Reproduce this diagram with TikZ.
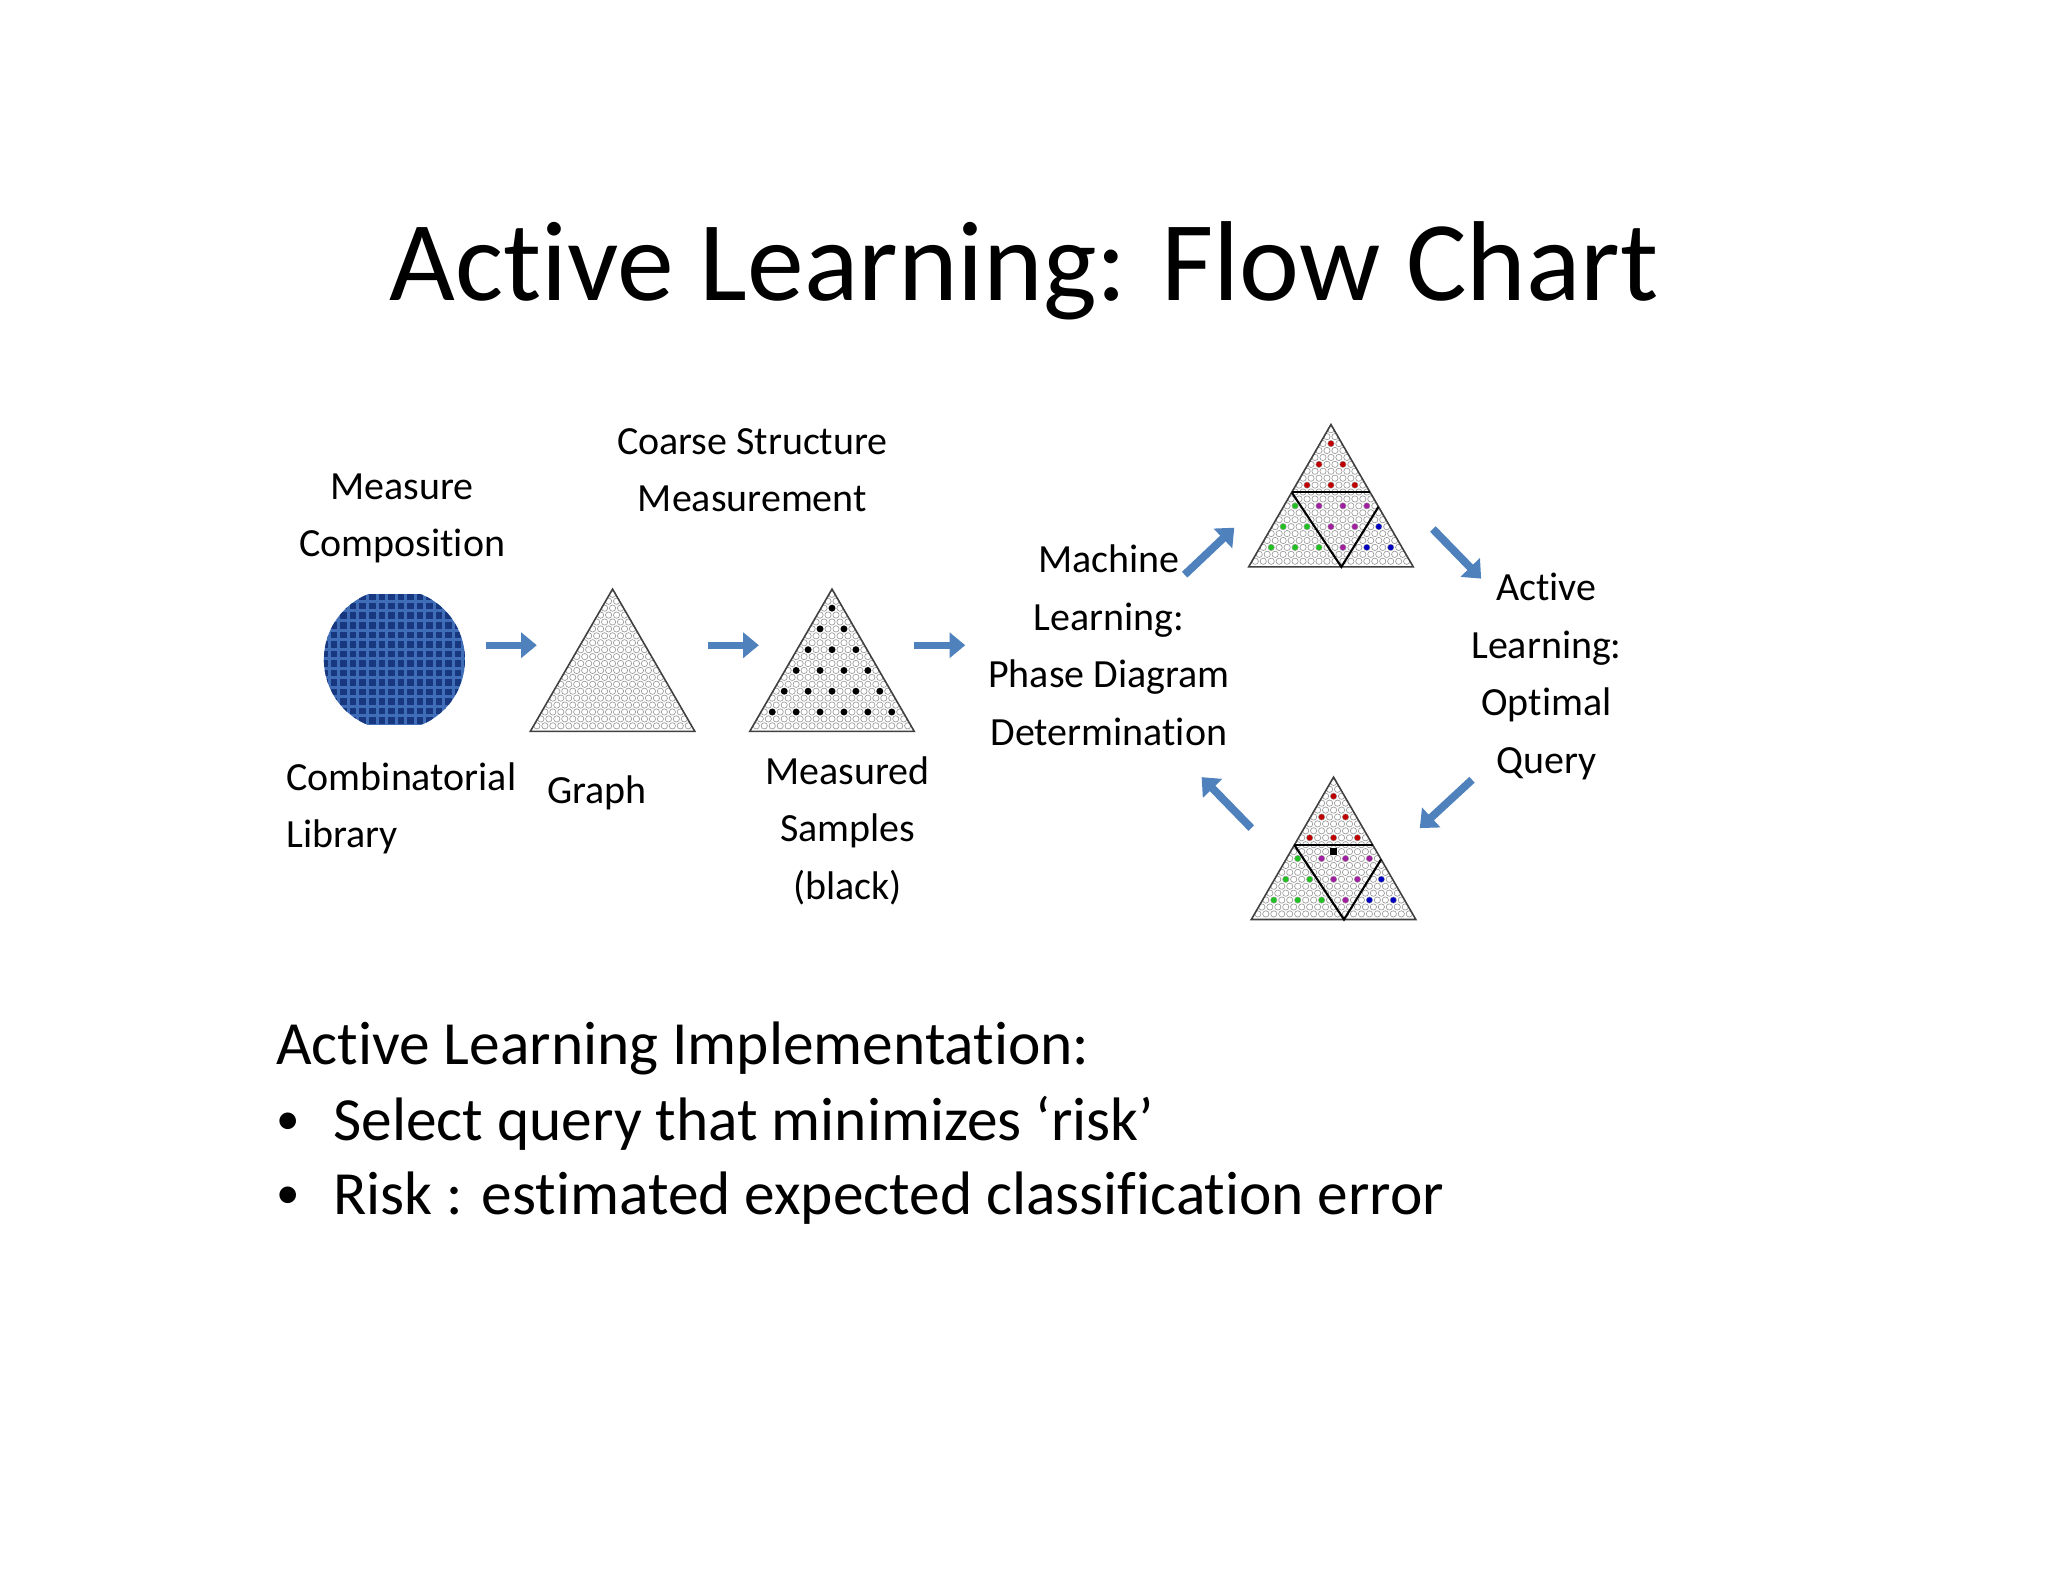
\documentclass[tikz,border=0pt]{standalone}
\usepackage{fontspec}
\setmainfont[Ligatures=NoCommon]{Carlito}
\usetikzlibrary{arrows.meta}
\definecolor{arrowblue}{HTML}{4F81BD}
\definecolor{waferlight}{HTML}{3F6DB8}
\definecolor{waferdark}{HTML}{17387E}
\definecolor{dmag}{HTML}{A020A0}
\definecolor{dred}{HTML}{C00000}
\definecolor{dgreen}{HTML}{22C022}
\definecolor{dblue}{HTML}{0000C0}
\tikzset{
  lbl/.style={align=center,font=\fontsize{15.3}{22}\selectfont,inner sep=0pt},
  harrow/.style={arrowblue,line width=2.8pt,-{Triangle[width=9.5pt,length=6pt]}},
  darrow/.style={arrowblue,line width=3pt,-{Triangle[width=10pt,length=6pt]}},
  tri/.style={draw=black!75,line width=0.6pt},
  latt/.style={draw=black!40,line width=0.25pt},
  phase/.style={draw=black,line width=0.8pt},
  btxt/.style={anchor=west,inner sep=0pt,font=\fontsize{23.5}{28}\selectfont}
}
\newcommand{\lattri}{%
  \foreach \r in {0,...,19}{\foreach \i in {0,...,\r}{\draw[latt] ({\i*6.1-\r*3.05},{4+\r*5.3}) circle[radius=1.2pt];}}
  \draw[tri] (0,0) -- (63,109) -- (-63,109) -- cycle;}
\newcommand{\phasedots}{%
  \foreach \k/\j/\c in {0/0/dred,1/0/dred,1/1/dred,2/0/dred,2/1/dred,2/2/dred,3/0/dgreen,3/1/dmag,3/2/dmag,3/3/dmag,4/0/dgreen,4/1/dgreen,4/2/dmag,4/3/dmag,4/4/dblue,5/0/dgreen,5/1/dgreen,5/2/dgreen,5/3/dmag,5/4/dblue,5/5/dblue}{
    \fill[\c] ({(3*\j+1)*6.1-(3*\k+2)*3.05},{4+(3*\k+2)*5.3}) circle[radius=1.1pt];}
  \draw[phase] (-30,52) -- (30,52);
  \draw[phase] (-30,52) -- (8,109) -- (36.4,63);}
\begin{document}
\begin{tikzpicture}[x=0.5pt,y=-0.5pt]
\useasboundingbox (0,0) rectangle (1568,1211);
\fill[white] (0,0) rectangle (1568,1211);
% title
\node[font=\fontsize{43.5}{50}\selectfont,inner sep=0pt] (title) at (784,207) {Active Learning: Flow Chart};
% wafer
\begin{scope}
  \clip (248,455) rectangle (357,555);
  \clip (302,505) ellipse [x radius=27pt,y radius=27pt];
  \fill[waferlight] (240,440) rectangle (370,570);
  \foreach \a in {0,...,16}{\foreach \b in {0,...,16}{
    \fill[waferdark] ({246+\a*7.3},{447+\b*7.3}) rectangle ++(5,5);}}
\end{scope}
\coordinate (wafer) at (302,505);
% triangles
\begin{scope}[shift={(469,451)}] \lattri \coordinate (graph) at (0,55); \end{scope}
\begin{scope}[shift={(637,451)}] \lattri
  \foreach \k in {0,...,5}{\foreach \j in {0,...,\k}{
    \fill[black] ({(3*\j+1)*6.1-(3*\k+2)*3.05},{4+(3*\k+2)*5.3}) circle[radius=1.3pt];}}
  \coordinate (meas) at (0,55);
\end{scope}
\begin{scope}[shift={(1019,325)}] \lattri \phasedots \coordinate (top) at (0,55); \end{scope}
\begin{scope}[shift={(1021,595)}] \lattri \phasedots
  \fill[black] (-2.5,54.5) rectangle (2.5,59.5);
  \coordinate (bot) at (0,55);
\end{scope}
% horizontal arrows
\coordinate (a1s) at (372,494); \coordinate (a1e) at (411,494);
\coordinate (a2s) at (542,494); \coordinate (a2e) at (581,494);
\coordinate (a3s) at (700,494); \coordinate (a3e) at (739,494);
\draw[harrow] (a1s) -- (a1e);
\draw[harrow] (a2s) -- (a2e);
\draw[harrow] (a3s) -- (a3e);
% diagonal arrows
\coordinate (d1s) at (907,440); \coordinate (d1e) at (945,404);
\coordinate (d2s) at (1097,405); \coordinate (d2e) at (1134,443);
\coordinate (d3s) at (1127,597); \coordinate (d3e) at (1087,634);
\coordinate (d4s) at (958,634); \coordinate (d4e) at (920,595);
\draw[darrow] (d1s) -- (d1e);
\draw[darrow] (d2s) -- (d2e);
\draw[darrow] (d3s) -- (d3e);
\draw[darrow] (d4s) -- (d4e);
% labels
\node[lbl] (l1) at (308,397) {Measure\\Composition};
\node[lbl] (l2) at (576,360) {Coarse Structure\\Measurement};
\node[lbl,align=left,anchor=west] (l3) at (219,619) {Combinatorial\\Library};
\node[lbl] (l4) at (457,607) {Graph};
\node[lbl] (l5) at (649,636) {Measured\\Samples\\(black)};
\node[lbl] (l6) at (849,494) {Machine\\Learning:\\Phase Diagram\\Determination};
\node[lbl] (l7) at (1184,518) {Active\\Learning:\\Optimal\\Query};
% bottom text
\node[btxt] (b0) at (211,803) {Active Learning Implementation:};
\node[btxt,font=\fontsize{18}{20}\selectfont] (b1d) at (211,860) {•};
\node[btxt] (b1) at (255,860) {Select query that minimizes ‘risk’};
\node[btxt,font=\fontsize{18}{20}\selectfont] (b2d) at (211,917) {•};
\node[btxt] (b2) at (255,917) {Risk : estimated expected classification error};
\end{tikzpicture}
\end{document}
